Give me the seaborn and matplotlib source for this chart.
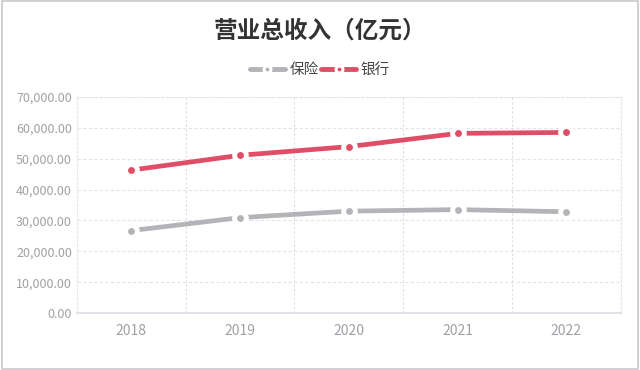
import matplotlib
matplotlib.use('Agg')
import matplotlib.pyplot as plt
import seaborn as sns
import pandas as pd
from matplotlib.lines import Line2D
from matplotlib.ticker import FuncFormatter, MultipleLocator
from matplotlib.patches import Rectangle

# 데이터
years = ['2018', '2019', '2020', '2021', '2022']
insurance = [26700, 30900, 33000, 33500, 32800]
bank = [46300, 51100, 53900, 58200, 58500]

gray = '#b4b4b8'
red = '#df4d66'

sns.set_theme(style='white')
plt.rcParams['font.family'] = ['Noto Sans CJK SC', 'DejaVu Sans']

df = pd.DataFrame({'year': years * 2,
                   'value': insurance + bank,
                   'kind': ['保险'] * 5 + ['银行'] * 5})

fig = plt.figure(figsize=(6.4, 3.7), dpi=100)
ax = fig.add_axes([0.120, 0.154, 0.850, 0.584])

sns.lineplot(data=df, x='year', y='value', hue='kind',
             palette={'保险': gray, '银行': red},
             linewidth=3.4, marker='o', markersize=8.5,
             markeredgecolor='white', markeredgewidth=3.5,
             legend=False, ax=ax, zorder=3)

ax.set_xlim(-0.5, 4.5)
ax.set_ylim(0, 70000)
ax.yaxis.set_major_locator(MultipleLocator(10000))
ax.yaxis.set_major_formatter(FuncFormatter(lambda v, p: f'{v:,.2f}'))
ax.xaxis.set_minor_locator(MultipleLocator(1, offset=0.5))
ax.set_xlabel('')
ax.set_ylabel('')

ax.grid(axis='y', which='major', color='#e2e4ea', linestyle=(0, (3, 2)), linewidth=0.8)
ax.grid(axis='x', which='minor', color='#dcdde3', linestyle=(0, (2, 2)), linewidth=0.8)
ax.tick_params(axis='both', which='both', length=0, colors='#a0a0a6', labelsize=9)
ax.tick_params(axis='x', labelsize=10, pad=8)
for s in ['top', 'right', 'left']:
    ax.spines[s].set_color('#e6e7ec')
    ax.spines[s].set_linestyle((0, (2, 2)))
    ax.spines[s].set_linewidth(0.8)
ax.spines['bottom'].set_color('#dcdde3')
ax.spines['bottom'].set_linewidth(1.2)

fig.text(0.5, 0.918, '营业总收入（亿元）', ha='center', va='center',
         fontsize=17, fontweight='bold', color='#333333')

handles = [Line2D([0], [0], color=gray, lw=3.5, marker='o',
                  markersize=5, markeredgecolor='white', markeredgewidth=2.2),
           Line2D([0], [0], color=red, lw=3.5, marker='o',
                  markersize=5, markeredgecolor='white', markeredgewidth=2.2)]
fig.legend(handles, ['保险', '银行'], loc='center', bbox_to_anchor=(0.5, 0.81),
           ncol=2, frameon=False, fontsize=10.5, handlelength=2.4,
           handletextpad=0.3, columnspacing=0.2, labelcolor='#444444')

fig.patches.append(Rectangle((0.003, 0.004), 0.994, 0.992, transform=fig.transFigure,
                             fill=False, edgecolor='#c8c8cc', linewidth=1.2))

fig.savefig('out.png', dpi=100)
